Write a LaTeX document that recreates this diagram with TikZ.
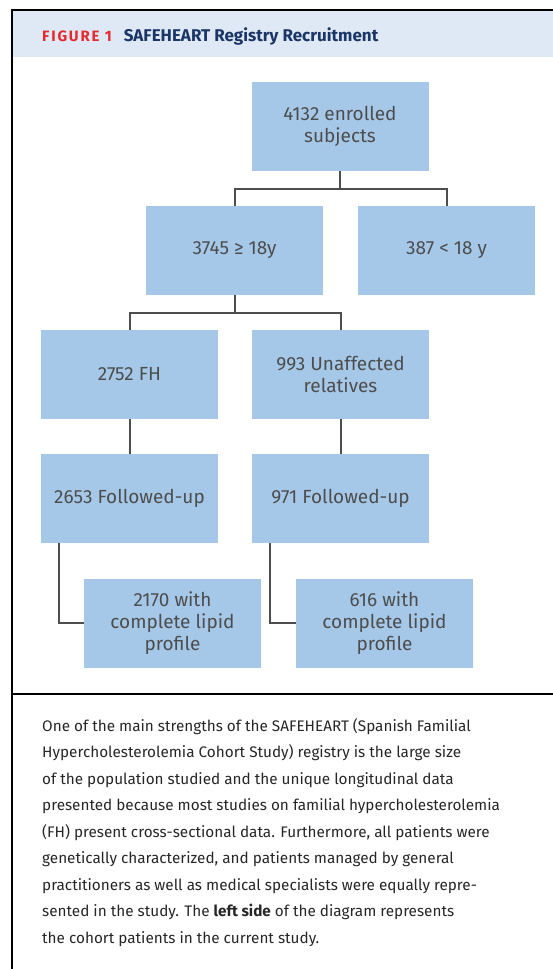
\documentclass[tikz,border=0pt]{standalone}
\usepackage{fontspec}
\setmainfont{Fira Sans}
\usetikzlibrary{positioning}
\definecolor{boxblue}{HTML}{A6C8E8}
\definecolor{headblue}{HTML}{DEE9F5}
\definecolor{linkgray}{HTML}{4D4D4D}
\definecolor{titlenavy}{HTML}{1B3566}
\definecolor{figred}{HTML}{E42A2F}
\tikzset{
	box/.style={fill=boxblue, text=linkgray, minimum width=177pt, minimum height=89pt,
		inner sep=0pt, align=center, font=\fontsize{19}{22}\selectfont},
	link/.style={draw=linkgray, line width=2pt},
	frame/.style={draw=black, line width=2pt}
}

\begin{document}
\begin{tikzpicture}[x=1pt, y=-1pt]
			%%%%% START %%%%%
			
			\useasboundingbox (0, 0) rectangle (553, 969);
			
			\fill[headblue] (12, 10) rectangle (553, 57);
			\draw[frame] (12, 969) -- (12, 10) -- (553, 10);
			\draw[frame] (12, 694) -- (553, 694);
			
			\node[anchor=base west, inner sep=0pt] (title) at (42, 41)
				{{\fontsize{15}{18}\selectfont\bfseries\addfontfeatures{LetterSpace=12}\color{figred}FIGURE 1}\hspace{12pt}%
				{\fontsize{17}{20}\selectfont\bfseries\color{titlenavy}SAFEHEART Registry Recruitment}};
			
			\node[box] (enrolled) at (340, 126.5) {4132 enrolled\\subjects};
			
			\node[box] (adult) at (234.5, 250.5) {3745 ≥ 18y};
			\node[box] (minor) at (446.5, 250.5) {387 < 18 y};
			
			\node[box] (fh) at (129.5, 374.5) {2752 FH};
			\node[box] (unaff) at (340.5, 374.5) {993 Unaffected\\relatives};
			
			\node[box] (fufh) at (129.5, 498.5) {2653 Followed-up};
			\node[box] (fuunaff) at (340.5, 498.5) {971 Followed-up};
			
			\node[box] (lipfh) at (172.5, 623) {2170 with\\complete lipid\\profile};
			\node[box] (lipunaff) at (384.5, 623) {616 with\\complete lipid\\profile};
			
			\draw[link] (enrolled.south) -- ++(0, 17.5) -| (adult.north);
			\draw[link] (enrolled.south) -- ++(0, 17.5) -| (minor.north);
			
			\draw[link] (adult.south) -- ++(0, 17.5) -| (fh.north);
			\draw[link] (adult.south) -- ++(0, 17.5) -| (unaff.north);
			
			\draw[link] (fh) -- (fufh);
			\draw[link] (unaff) -- (fuunaff);
			
			\draw[link] ([xshift=18pt]fufh.south west) |- (lipfh.west);
			\draw[link] ([xshift=18pt]fuunaff.south west) |- (lipunaff.west);
			
			\node[anchor=north west, inner sep=0pt, align=left, text=black!85,
				font=\fontsize{15.3}{26.5}\selectfont] (caption) at (42, 718)
				{One of the main strengths of the SAFEHEART (Spanish Familial\\
				Hypercholesterolemia Cohort Study) registry is the large size\\
				of the population studied and the unique longitudinal data\\
				presented because most studies on familial hypercholesterolemia\\
				(FH) present cross-sectional data. Furthermore, all patients were\\
				genetically characterized, and patients managed by general\\
				practitioners as well as medical specialists were equally repre-\\
				sented in the study. The \textbf{left side} of the diagram represents\\
				the cohort patients in the current study.};
			
			%%%%% END %%%%%
\end{tikzpicture}
\end{document}
